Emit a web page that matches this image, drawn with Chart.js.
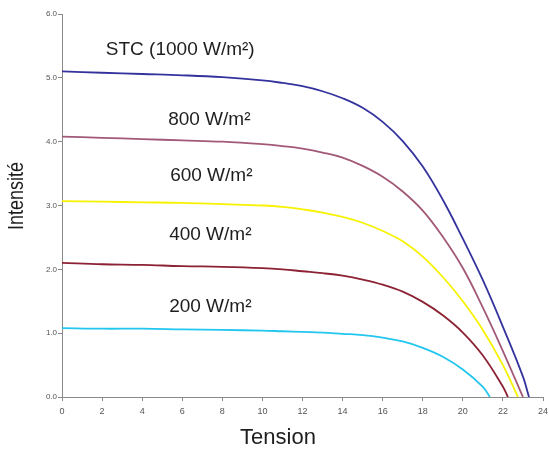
<!DOCTYPE html>
<html>
<head>
<meta charset="utf-8">
<script src="https://cdn.jsdelivr.net/npm/chart.js@4"></script>
<style>
  html, body { margin: 0; padding: 0; background: #fff; }
  #wrap { width: 549px; height: 452px; }
</style>
</head>
<body>
<div id="wrap"><canvas id="ivChart"></canvas></div>
<script>
// Courbes I-V du module pour differents eclairements
const curveNames = ["STC (1000 W/m²)", "800 W/m²", "600 W/m²", "400 W/m²", "200 W/m²"];
const curveColors = ["#34339e", "#a25978", "#f7f200", "#8c2233", "#22c6ee"];

const stcV = [0, 2, 4, 6, 8, 10, 11, 12, 13, 14, 15, 16, 17, 18, 19, 20, 21, 22, 23, 23.3];
const stcI = [5.1, 5.08, 5.06, 5.04, 5.01, 4.96, 4.92, 4.87, 4.79, 4.68, 4.53, 4.31, 4.01, 3.61, 3.09, 2.48, 1.83, 1.1, 0.32, 0];

const i800V = [0, 2, 4, 6, 8, 10, 11, 12, 13, 14, 15, 16, 17, 18, 19, 20, 21, 22, 23];
const i800I = [4.08, 4.06, 4.04, 4.02, 4.0, 3.96, 3.93, 3.89, 3.83, 3.75, 3.62, 3.45, 3.22, 2.92, 2.51, 2.02, 1.4, 0.72, 0];

const i600V = [0, 2, 4, 6, 8, 10, 11, 12, 13, 14, 15, 16, 17, 18, 19, 20, 21, 22, 22.75];
const i600I = [3.07, 3.06, 3.05, 3.04, 3.02, 3.0, 2.98, 2.94, 2.89, 2.82, 2.73, 2.6, 2.44, 2.2, 1.88, 1.5, 1.05, 0.5, 0];

const i400V = [0, 2, 4, 6, 8, 10, 11, 12, 13, 14, 15, 16, 17, 18, 19, 20, 21, 22, 22.25];
const i400I = [2.1, 2.08, 2.07, 2.05, 2.04, 2.02, 2.0, 1.97, 1.94, 1.9, 1.84, 1.76, 1.65, 1.49, 1.28, 1.01, 0.65, 0.16, 0];

const i200V = [0, 2, 4, 6, 8, 10, 11, 12, 13, 14, 15, 16, 17, 18, 19, 20, 21, 21.35];
const i200I = [1.08, 1.07, 1.07, 1.06, 1.05, 1.04, 1.03, 1.02, 1.01, 0.99, 0.97, 0.93, 0.87, 0.77, 0.63, 0.43, 0.16, 0];

// ou ecrire le nom de chaque courbe (en unites des axes)
const labelV = [5.9, 7.35, 7.45, 7.4, 7.4];
const labelI = [5.44, 4.35, 3.47, 2.54, 1.41];

const xTicks = [0, 24, 2];   // min, max, pas
const yTicks = [0, 6, 1];

const series = [[stcV, stcI], [i800V, i800I], [i600V, i600I], [i400V, i400I], [i200V, i200I]];

const datasets = series.map((s, k) => ({
  label: curveNames[k],
  data: s[0].map((v, j) => ({ x: v, y: s[1][j] })),
  borderColor: curveColors[k],
  borderWidth: 1.8,
  pointRadius: 0,
  showLine: true,
  tension: 0.4,
  fill: false
}));

// textes sur les courbes + titres des axes
const textPlugin = {
  id: "texts",
  afterDraw(chart) {
    const c = chart.ctx;
    const xs = chart.scales.x, ys = chart.scales.y;
    c.save();
    c.fillStyle = "#1e1e1e";
    c.textAlign = "center";
    c.textBaseline = "middle";
    c.font = "19px 'Liberation Sans', Arial, sans-serif";
    curveNames.forEach((n, k) => {
      c.fillText(n, xs.getPixelForValue(labelV[k]), ys.getPixelForValue(labelI[k]));
    });
    c.font = "22px 'Liberation Sans', Arial, sans-serif";
    c.fillText("Tension", 278, 438);
    c.translate(17, 196);
    c.rotate(-Math.PI / 2);
    c.scale(0.82, 1);
    c.fillText("Intensité", 0, 0);
    c.restore();
  }
};

new Chart(document.getElementById("ivChart"), {
  type: "scatter",
  data: { datasets },
  options: {
    responsive: true,
    maintainAspectRatio: false,
    animation: false,
    layout: { padding: { left: 0, top: 14, right: 6, bottom: 0 } },
    plugins: {
      legend: { display: false },
      tooltip: { enabled: false }
    },
    scales: {
      x: {
        type: "linear",
        min: xTicks[0],
        max: xTicks[1],
        afterFit: s => { s.height = 55; s.paddingRight = 0; s.paddingLeft = 0; },
        ticks: {
          stepSize: xTicks[2],
          color: "#555",
          font: { size: 9, family: "'Liberation Sans', Arial, sans-serif" },
          padding: 5,
          maxRotation: 0
        },
        grid: { drawOnChartArea: false, tickLength: 4, color: "#8a8a8a" },
        border: { color: "#8a8a8a", width: 1 }
      },
      y: {
        min: yTicks[0],
        max: yTicks[1],
        afterFit: s => { s.width = 62; },
        ticks: {
          stepSize: yTicks[2],
          color: "#555",
          font: { size: 8, family: "'Liberation Sans', Arial, sans-serif" },
          padding: 1,
          callback: v => v.toFixed(1)
        },
        grid: { drawOnChartArea: false, tickLength: 4, color: "#8a8a8a" },
        border: { color: "#8a8a8a", width: 1 }
      }
    }
  },
  plugins: [textPlugin]
});
</script>
</body>
</html>
